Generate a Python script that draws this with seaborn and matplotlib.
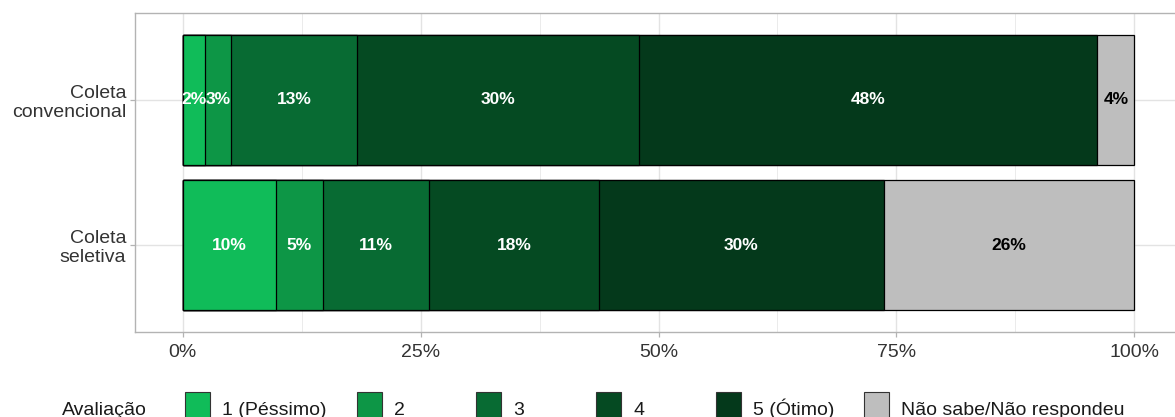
import matplotlib
matplotlib.use("Agg")
import matplotlib.pyplot as plt
from matplotlib.patches import Rectangle
from matplotlib.ticker import MultipleLocator, FuncFormatter
import numpy as np
import pandas as pd
import seaborn as sns

# ---------------- data ----------------
categories = ["Coleta\nconvencional", "Coleta\nseletiva"]
levels = ["1 (Péssimo)", "2", "3", "4", "5 (Ótimo)", "Não sabe/Não respondeu"]
conv_values = [2.4, 2.7, 13.2, 29.6, 48.2, 3.9]      # %
selet_values = [9.8, 4.9, 11.2, 17.8, 30.0, 26.3]    # %
legend_title = "Avaliação"
x_ticks = [0, 0.25, 0.5, 0.75, 1.0]

colors = ["#10BC59", "#0D9646", "#086B33", "#054A22", "#04391B", "#BEBEBE"]
label_colors = ["white", "white", "white", "white", "white", "black"]

W, H, DPI = 1175, 417, 100
sns.set_theme(style="white")
plt.rcParams["font.family"] = ["Liberation Sans", "DejaVu Sans"]

fig = plt.figure(figsize=(W / DPI, H / DPI), dpi=DPI)
# panel in pixel coords: x 135..1182, y 13..332
ax = fig.add_axes([135 / W, 1 - 332 / H, (1182 - 135) / W, (332 - 13) / H])

vals = np.array([conv_values, selet_values]) / 100.0
cum = np.cumsum(vals, axis=1)

df = pd.DataFrame({"cat": np.repeat(categories, len(levels)),
                   "level": levels * len(categories),
                   "cum": cum.ravel()})

# draw cumulative layers from the largest to the smallest (stacked effect)
for i in range(len(levels) - 1, -1, -1):
    sub = df[df["level"] == levels[i]]
    sns.barplot(data=sub, x="cum", y="cat", orient="h", color=colors[i],
                saturation=1, edgecolor="black", linewidth=0.9, width=0.9,
                ax=ax, order=categories)

# segment labels
for r in range(len(categories)):
    for i in range(len(levels)):
        v = vals[r, i]
        ax.text(cum[r, i] - v / 2, r, f"{round(v * 100):.0f}%",
                ha="center", va="center", fontsize=12.5, fontweight="bold",
                color=label_colors[i])

ax.set_xlim(-0.05, 1.05)
ax.set_ylim(1.6, -0.6)
ax.xaxis.set_major_locator(plt.FixedLocator(x_ticks))
ax.xaxis.set_minor_locator(MultipleLocator(0.125))
ax.xaxis.set_major_formatter(FuncFormatter(lambda x, p: f"{x * 100:.0f}%"))
ax.set_xlabel("")
ax.set_ylabel("")

ax.set_axisbelow(True)
ax.grid(True, which="major", axis="both", color="#E3E3E3", linewidth=1.0)
ax.grid(True, which="minor", axis="x", color="#EBEBEB", linewidth=0.7)
for s in ax.spines.values():
    s.set_color("#B3B3B3")
    s.set_linewidth(1.0)

ax.tick_params(axis="both", which="major", length=3.6, width=0.9,
               color="#B3B3B3", labelsize=14, labelcolor="#333333", pad=2.8,
               bottom=True, left=True)
ax.tick_params(axis="x", which="major", pad=5)
ax.tick_params(axis="x", which="minor", length=0)
for t in ax.get_yticklabels():
    t.set_linespacing(1.15)
    t.set_ha("right")

# ---------------- legend (bottom, horizontal) ----------------
def fx(px):
    return px / W

def fy(py):
    return 1 - py / H

key_left = [185, 357, 476, 596, 716, 864]
key_w, key_top, key_h = 25, 392, 34
text_gap = 37
baseline = 415

fig.text(fx(62), fy(baseline), legend_title, fontsize=14, color="#1A1A1A",
         ha="left", va="baseline")
for i, lab in enumerate(levels):
    fig.add_artist(Rectangle((fx(key_left[i]), fy(key_top + key_h)),
                             key_w / W, key_h / H, transform=fig.transFigure,
                             facecolor=colors[i], edgecolor="#333333",
                             linewidth=0.8))
    fig.text(fx(key_left[i] + text_gap), fy(baseline), lab, fontsize=14,
             color="#1A1A1A", ha="left", va="baseline")

fig.savefig("out.png", dpi=DPI)
